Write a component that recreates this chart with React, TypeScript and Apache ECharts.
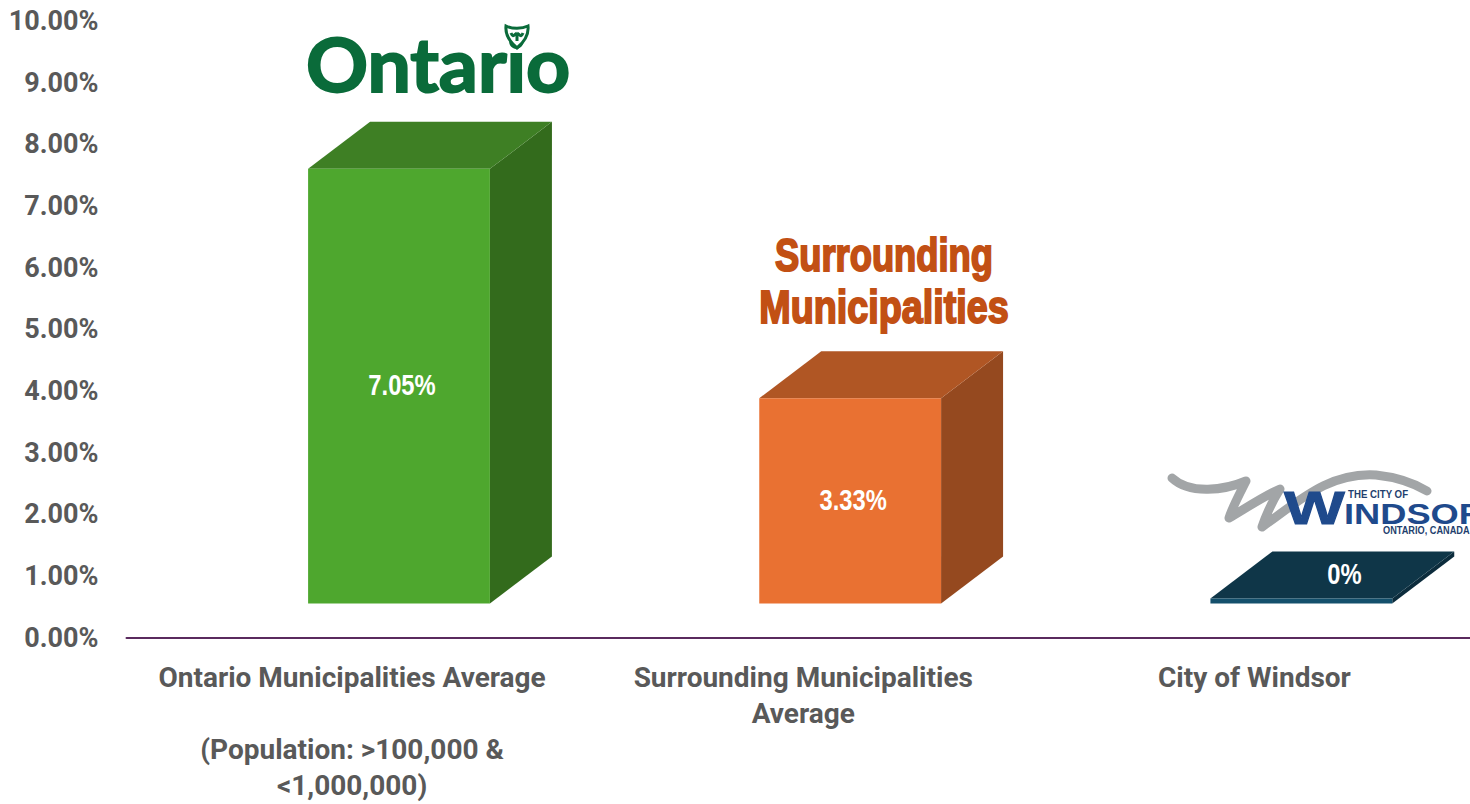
import React, { useEffect, useRef } from "react";
import * as echarts from "echarts";

const categories = [
  "Ontario Municipalities Average\n\n(Population: >100,000 &\n<1,000,000)",
  "Surrounding Municipalities\nAverage",
  "City of Windsor",
];
const values = [7.05, 3.33, 0];
const valueLabels = ["7.05%", "3.33%", "0%"];
const frontColors = ["#4EA72E", "#E97132", "#14506C"];
const topColors = ["#3E7F24", "#B05624", "#0F3648"];
const sideColors = ["#336B1C", "#95491F", "#0C2C3C"];

const AXIS_FONT = 'Roboto, "Liberation Sans", sans-serif';
const LIB = '"Liberation Sans", sans-serif';

const trilliumPath =
  "M506,26 C512,29 522,29 528,26 C529,35 524,42 517,48 C510,42 505,35 506,26 Z " +
  "M517,33 C514,35 513,38 511,33 M517,33 C520,35 521,38 523,33 M517,33 L517,41";
const swooshPath =
  "M1172,478 C1190,495 1225,490 1246,481 C1238,497 1232,508 1229,518 C1240,512 1262,497 1280,489 C1272,502 1266,515 1262,527 " +
  "C1300,500 1330,472 1376,475 C1395,477 1412,482 1427,491";

echarts.graphic.registerShape("trillium", echarts.graphic.extendPath(trilliumPath, {}));
echarts.graphic.registerShape("swoosh", echarts.graphic.extendPath(swooshPath, {}));

function renderBox(params: any, api: any) {
  const i = api.value(0);
  const v = api.value(1);
  const band = api.size([1, 0])[0];
  const w = band * 0.403;
  const dx = 62;
  const dy = 47;
  const floor = 34;
  const offset = band * 0.104;
  const [cx, y0] = api.coord([i, 0]);
  const yv = api.coord([i, v])[1];
  const left = cx + offset - w / 2;
  const right = left + w;
  const bottom = y0 - floor;
  const top = Math.min(yv - floor, bottom - 5);
  const flat = v === 0;
  const poly = (points: number[][], fill: string) => ({
    type: "polygon",
    shape: { points },
    style: { fill },
  });
  return {
    type: "group",
    children: [
      poly([[right, top], [right + dx, top - dy], [right + dx, bottom - dy], [right, bottom]], sideColors[i]),
      poly([[left, top], [left + dx, top - dy], [right + dx, top - dy], [right, top]], topColors[i]),
      poly([[left, top], [right, top], [right, bottom], [left, bottom]], frontColors[i]),
      {
        type: "text",
        x: flat ? cx + offset + 43 : cx + offset + 3,
        y: flat ? top - dy / 2 - 1 : (top + bottom) / 2 - 1,
        scaleX: 0.82,
        style: {
          text: valueLabels[i],
          x: 0,
          y: 0,
          fill: "#FFFFFF",
          font: `bold 29px ${LIB}`,
          textAlign: "center",
          textVerticalAlign: "middle",
        },
      },
    ],
  };
}

const logoText = (
  text: string,
  x: number,
  y: number,
  font: string,
  fill: string,
  scaleX = 1,
  extra: any = {},
  textAlign = "left"
) => ({
  type: "text",
  x,
  y,
  scaleX,
  z: 11,
  style: { text, font, fill, textAlign, textVerticalAlign: "middle", ...extra },
});

export default function App() {
  const ref = useRef<HTMLDivElement>(null);
  useEffect(() => {
    document.body.style.margin = "0";
    document.body.style.background = "#fff";
    const chart = echarts.init(ref.current!, undefined, { renderer: "svg" });
    chart.setOption({
      animation: false,
      backgroundColor: "#FFFFFF",
      grid: { left: 126.5, top: 21, width: 1353.5, height: 616.5, outerBoundsMode: "none" },
      xAxis: {
        type: "category",
        data: categories,
        axisLine: { show: true, lineStyle: { color: "#5A2A5E", width: 2 } },
        axisTick: { show: false },
        axisLabel: {
          interval: 0,
          margin: 21.5,
          color: "#595959",
          fontFamily: AXIS_FONT,
          fontWeight: "bold",
          fontSize: 28,
          lineHeight: 36,
        },
      },
      yAxis: {
        type: "value",
        min: 0,
        max: 10,
        interval: 1,
        splitLine: { show: false },
        axisLine: { show: false },
        axisTick: { show: false },
        axisLabel: {
          margin: 28,
          color: "#595959",
          fontFamily: AXIS_FONT,
          fontWeight: "bold",
          fontSize: 27,
          formatter: (v: number) => v.toFixed(2) + "%",
        },
      },
      series: [
        {
          type: "custom",
          renderItem: renderBox,
          encode: { x: 0, y: 1 },
          data: values.map((v, i) => [i, v]),
          clip: false,
        },
      ],
      graphic: [
        logoText("Ontario", 306, 63, "bold 75px Lato, sans-serif", "#0A6B3A", 1.025, { stroke: "#0A6B3A", lineWidth: 2 }),
        {
          type: "trillium",
          x: 0,
          y: 0,
          z: 12,
          style: { fill: "#FFFFFF", stroke: "#0A6B3A", lineWidth: 3 },
        },
        logoText("Surrounding", 884, 255, `bold 46px ${LIB}`, "#C25014", 0.79, { stroke: "#C25014", lineWidth: 2 }, "center"),
        logoText("Municipalities", 884, 307, `bold 46px ${LIB}`, "#C25014", 0.82, { stroke: "#C25014", lineWidth: 2 }, "center"),
        {
          type: "swoosh",
          x: 0,
          y: 0,
          z: 10,
          style: { fill: "none", stroke: "#A2A5A7", lineWidth: 9, lineCap: "round", lineJoin: "round" },
        },
        logoText("W", 1284, 508, `bold 46px ${LIB}`, "#1F4A8C", 1.4, { stroke: "#1F4A8C", lineWidth: 1 }),
        logoText("INDSOR", 1344, 514, `bold 29px ${LIB}`, "#1F4A8C", 1.25),
        logoText("THE CITY OF", 1348, 494, `bold 11px ${LIB}`, "#1F3F6E", 0.88),
        logoText("ONTARIO, CANADA", 1383, 530, `bold 10px ${LIB}`, "#1F3F6E", 0.92),
      ],
    });
    return () => chart.dispose();
  }, []);
  return <div ref={ref} style={{ width: 1470, height: 804 }} />;
}
